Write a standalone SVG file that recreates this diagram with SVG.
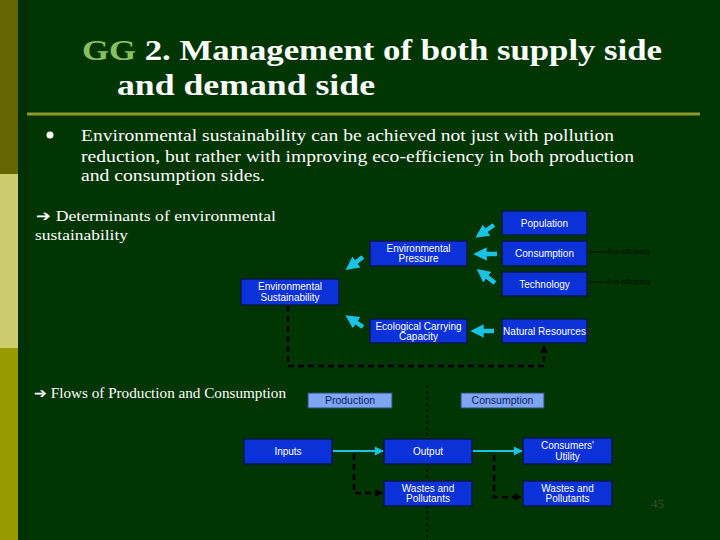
<svg xmlns="http://www.w3.org/2000/svg" width="720" height="540" viewBox="0 0 720 540">
<defs>
<style>
.serif{font-family:"Liberation Serif","DejaVu Serif",serif;fill:#ffffff}
.box{fill:#0b32d8;stroke:#0a1a40;stroke-width:1.5}
.lbox{fill:#7ea6f2;stroke:#2a4a70;stroke-width:1}
.bt{font-family:"Liberation Sans",Arial,sans-serif;font-size:10px;fill:#ffffff;text-anchor:middle}
.lt{font-family:"Liberation Sans",Arial,sans-serif;font-size:10.5px;fill:#10206a;text-anchor:middle}
.cy{stroke:#19c3e6;stroke-width:4.5;fill:none}
.cyt{stroke:#19c3e6;stroke-width:1.8;fill:none}
.dash{stroke:#000000;stroke-width:2.5;fill:none;stroke-dasharray:6 4}
.eco{font-family:"Liberation Sans",Arial,sans-serif;font-size:7px;fill:#0a0a0a}
</style>
<marker id="ch" viewBox="0 0 10 10" refX="5" refY="5" markerWidth="3" markerHeight="3" orient="auto" markerUnits="strokeWidth"><path d="M0,0 L10,5 L0,10 z" fill="#19c3e6"/></marker>
<marker id="cht" viewBox="0 0 10 10" refX="9" refY="5" markerWidth="6" markerHeight="5" orient="auto" markerUnits="strokeWidth"><path d="M0,0 L10,5 L0,10 z" fill="#19c3e6"/></marker>
<marker id="bh" viewBox="0 0 10 10" refX="9" refY="5" markerWidth="3" markerHeight="3" orient="auto" markerUnits="strokeWidth"><path d="M0,0 L10,5 L0,10 z" fill="#000000"/></marker>
</defs>
<rect width="720" height="540" fill="#013501"/>
<rect x="0" y="0" width="18" height="174" fill="#666600"/>
<rect x="0" y="174" width="18" height="174" fill="#cccc6e"/>
<rect x="0" y="348" width="18" height="192" fill="#999900"/>
<rect x="18" y="0" width="10" height="540" fill="#023001"/>
<g id="title">
<text x="82" y="60" font-size="29" class="serif" font-weight="bold" textLength="580" lengthAdjust="spacingAndGlyphs"><tspan fill="#88c060">GG</tspan> 2. Management of both supply side</text>
<text x="117" y="95" font-size="29" class="serif" font-weight="bold" textLength="258" lengthAdjust="spacingAndGlyphs">and demand side</text>
</g>
<line x1="27" y1="114" x2="700" y2="114" stroke="#8f9a2a" stroke-width="3"/>
<circle cx="50" cy="135" r="3.5" fill="#ffffff"/>
<g id="bullet-text" class="serif" font-size="17">
<text x="81" y="141" textLength="533" lengthAdjust="spacingAndGlyphs">Environmental sustainability can be achieved not just with pollution</text>
<text x="81" y="162" textLength="553" lengthAdjust="spacingAndGlyphs">reduction, but rather with improving eco-efficiency in both production</text>
<text x="81" y="181" textLength="184" lengthAdjust="spacingAndGlyphs">and consumption sides.</text>
</g>
<text x="36" y="221" class="serif" font-size="15" textLength="240" lengthAdjust="spacingAndGlyphs">➔ Determinants of environmental</text>
<text x="35" y="240" class="serif" font-size="15" textLength="93" lengthAdjust="spacingAndGlyphs">sustainability</text>
<text x="34" y="398" class="serif" font-size="14" textLength="252" lengthAdjust="spacingAndGlyphs">➔ Flows of Production and Consumption</text>

<g id="connectors">
<line class="cy" x1="494" y1="225" x2="481" y2="234" marker-end="url(#ch)"/>
<line class="cy" x1="497" y1="254" x2="480" y2="254" marker-end="url(#ch)"/>
<line class="cy" x1="495" y1="283" x2="482" y2="273" marker-end="url(#ch)"/>
<line class="cy" x1="494" y1="331" x2="477" y2="331" marker-end="url(#ch)"/>
<line class="cy" x1="363" y1="257" x2="351" y2="266" marker-end="url(#ch)"/>
<line class="cy" x1="363" y1="327" x2="351" y2="319" marker-end="url(#ch)"/>
<polyline class="dash" points="288,306 288,366 544,366 544,346" marker-end="url(#bh)"/>
<line x1="588" y1="252" x2="606" y2="252" stroke="#0a0a0a" stroke-width="0.8"/>
<line x1="588" y1="282" x2="606" y2="282" stroke="#0a0a0a" stroke-width="0.8"/>
<line x1="427" y1="385" x2="427" y2="540" stroke="#000000" stroke-width="1.5" stroke-dasharray="3 3"/>
<line class="cyt" x1="333" y1="451" x2="383" y2="451" marker-end="url(#cht)"/>
<line class="cyt" x1="473" y1="451" x2="522" y2="451" marker-end="url(#cht)"/>
<polyline class="dash" points="354,454 354,493 382,493" marker-end="url(#bh)"/>
<polyline class="dash" points="494,455 494,497 521,497" marker-end="url(#bh)"/>
</g>
<text x="607" y="254" class="eco">Eco-efficiency</text>
<text x="607" y="284" class="eco">Eco-efficiency</text>

<g id="population"><rect class="box" x="502" y="211" width="85" height="24"/><text class="bt" x="544.5" y="227">Population</text></g>
<g id="consumption"><rect class="box" x="502" y="241" width="85" height="25"/><text class="bt" x="544.5" y="257">Consumption</text></g>
<g id="technology"><rect class="box" x="502" y="272" width="85" height="24"/><text class="bt" x="544.5" y="288">Technology</text></g>
<g id="natural-resources"><rect class="box" x="502" y="319" width="85" height="24"/><text class="bt" x="544.5" y="335">Natural Resources</text></g>
<g id="env-pressure"><rect class="box" x="370" y="241" width="97" height="25"/><text class="bt" x="418.5" y="251.5">Environmental</text><text class="bt" x="418.5" y="261.5">Pressure</text></g>
<g id="eco-capacity"><rect class="box" x="370" y="319" width="97" height="24"/><text class="bt" x="418.5" y="329.5">Ecological Carrying</text><text class="bt" x="418.5" y="339.5">Capacity</text></g>
<g id="env-sustainability"><rect class="box" x="241" y="279" width="98" height="26"/><text class="bt" x="290" y="290">Environmental</text><text class="bt" x="290" y="300.5">Sustainability</text></g>

<g id="production-label"><rect class="lbox" x="308" y="393" width="84" height="15"/><text class="lt" x="350" y="404">Production</text></g>
<g id="consumption-label"><rect class="lbox" x="461" y="393" width="83" height="15"/><text class="lt" x="502.5" y="404">Consumption</text></g>
<g id="inputs"><rect class="box" x="244" y="439" width="88" height="25"/><text class="bt" x="288" y="455">Inputs</text></g>
<g id="output"><rect class="box" x="384" y="439" width="88" height="25"/><text class="bt" x="428" y="455">Output</text></g>
<g id="consumers-utility"><rect class="box" x="523" y="438" width="89" height="26"/><text class="bt" x="567.5" y="449">Consumers'</text><text class="bt" x="567.5" y="459.5">Utility</text></g>
<g id="wastes-1"><rect class="box" x="384" y="481" width="88" height="25"/><text class="bt" x="428" y="491.5">Wastes and</text><text class="bt" x="428" y="501.5">Pollutants</text></g>
<g id="wastes-2"><rect class="box" x="523" y="481" width="89" height="25"/><text class="bt" x="567.5" y="491.5">Wastes and</text><text class="bt" x="567.5" y="501.5">Pollutants</text></g>
<text x="651" y="508" font-family="Liberation Serif,serif" font-size="13" fill="#3a4a3a">45</text>
</svg>
